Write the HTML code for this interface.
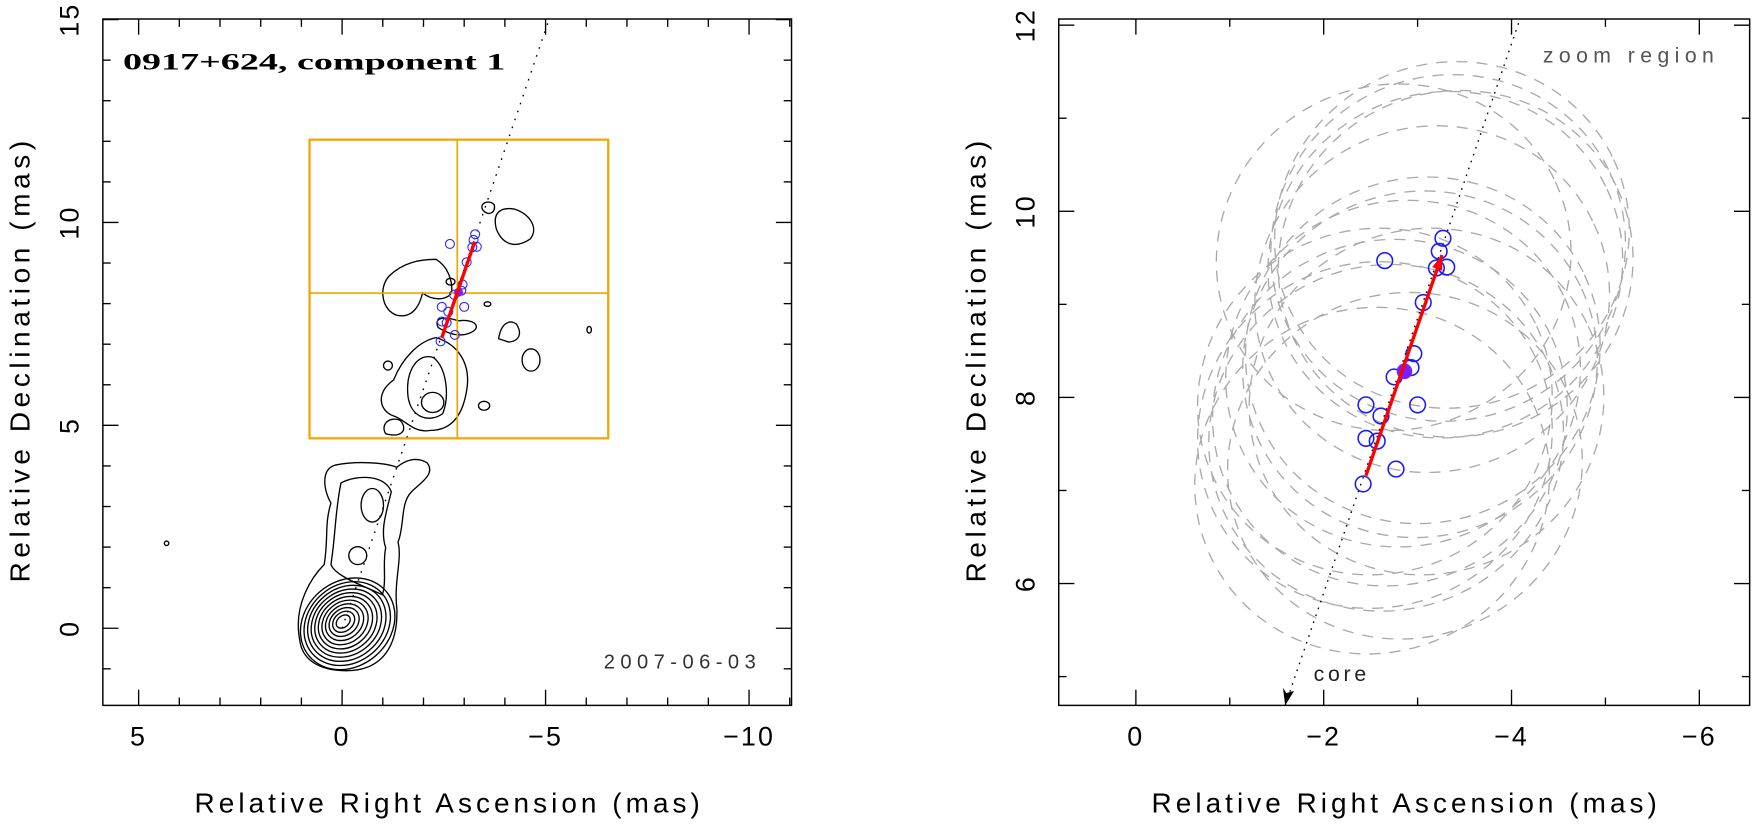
<!DOCTYPE html>
<html><head><meta charset="utf-8"><style>
html,body{margin:0;padding:0;background:#fff;}
svg{display:block;font-family:"Liberation Sans",sans-serif;}
</style></head><body>
<svg id="fig" width="1753" height="825" viewBox="0 0 1568 738" preserveAspectRatio="none">
<defs>
<clipPath id="clipL"><rect x="92" y="17" width="616" height="614"/></clipPath>
<clipPath id="clipR"><rect x="947" y="17" width="618" height="614"/></clipPath>
</defs>
<g id="left"></g>
<g id="right"></g>
</svg>
<script>
// ---- data ----
const compRA  = [-2.65,-3.27,-3.23,-3.20,-3.31,-3.06,-2.96,-2.93,-2.75,-2.45,-3.00,-2.61,-2.45,-2.57,-2.77,-2.42];
const compDec = [ 9.47, 9.71, 9.57, 9.39, 9.40, 9.02, 8.47, 8.32, 8.22, 7.92, 7.92, 7.80, 7.56, 7.53, 7.23, 7.07];
const meanPos = [-2.86, 8.28];
const motionStart = [-2.45, 7.16];
const motionEnd = [-3.26, 9.53];
const jetSlope = [-2.95];
const zoomBox = [0.8, -6.54, 4.68, 12.04];
const zoomCross = [-2.83, 8.26];
const leftXTicks = [5, 0, -5, -10];
const leftYTicks = [0, 5, 10, 15];
const rightXTicks = [0, -2, -4, -6];
const rightYTicks = [6, 8, 10, 12];
const beamRA = [1.9];
const beamDec = [1.85];

const NS = "http://www.w3.org/2000/svg";
function mk(parent, tag, attrs, text) {
  const e = document.createElementNS(NS, tag);
  for (const k in attrs) e.setAttribute(k, attrs[k]);
  if (text !== undefined) e.textContent = text;
  parent.appendChild(e);
  return e;
}
const LX = ra => 306 - 36.4 * ra;
const LY = d => 562 - 36.3 * d;
const RX = ra => 1016 - 84 * ra;
const RY = d => 189 + (10 - d) * 83.25;

function axes(g, x0, y0, x1, y1, xs, ys, xMaj, yMaj, xMin, yMin, xr, yr) {
  let f = mk(g, 'rect', {x:x0, y:y0, width:x1-x0, height:y1-y0, fill:'none', stroke:'#000', 'stroke-width':1.3});
  
  
  for (let v = xr[0]; v >= xr[1] - 1e-9; v -= xMin) {
    const px = xs(v); if (px < x0 || px > x1) continue;
    const maj = xMaj.some(m => Math.abs(m - v) < 1e-6);
    const L = maj ? 14 : 7;
    mk(g, 'line', {x1:px, y1:y1, x2:px, y2:y1-L, stroke:'#000', 'stroke-width':1.2});
    mk(g, 'line', {x1:px, y1:y0, x2:px, y2:y0+L, stroke:'#000', 'stroke-width':1.2});
  }
  for (let v = yr[0]; v <= yr[1] + 1e-9; v += yMin) {
    const py = ys(v); if (py < y0 || py > y1) continue;
    const maj = yMaj.some(m => Math.abs(m - v) < 1e-6);
    const L = maj ? 14 : 7;
    mk(g, 'line', {x1:x0, y1:py, x2:x0+L, y2:py, stroke:'#000', 'stroke-width':1.2});
    mk(g, 'line', {x1:x1, y1:py, x2:x1-L, y2:py, stroke:'#000', 'stroke-width':1.2});
  }
  xMaj.forEach(v => {
    const t = mk(g, 'text', {x:xs(v), y:y1+36, 'text-anchor':'middle', 'font-size':24, 'letter-spacing':'2', fill:'#000'}, v < 0 ? '\u2212' + Math.abs(v) : String(v));
    
    
  });
  yMaj.forEach(v => {
    const t = mk(g, 'text', {x:x0-28, y:ys(v), 'text-anchor':'middle', 'font-size':24, 'letter-spacing':'2', fill:'#000', transform:`rotate(-90 ${x0-28} ${ys(v)})`, 'dominant-baseline':'middle'}, String(v));
    
    
  });
  let xl = mk(g, 'text', {x:(x0+x1)/2 - 226, y:727, 'font-size':25, textLength:452, lengthAdjust:'spacing', fill:'#000'}, 'Relative Right Ascension (mas)');
  
  
  const yc = (y0+y1)/2, xc = x0 - 72;
  let yl = mk(g, 'text', {x:xc - 197, y:yc, 'font-size':25, textLength:395, lengthAdjust:'spacing', fill:'#000', transform:`rotate(-90 ${xc} ${yc})`, 'dominant-baseline':'middle'}, 'Relative Declination (mas)');
  
  
}

// ---------- LEFT ----------
const L = document.getElementById('left');
const Lc = mk(L, 'g', {'clip-path':'url(#clipL)'});
const cont = mk(Lc, 'g', {fill:'none', stroke:'#000', 'stroke-width':1.2});


for (let i = 0; i < 11; i++) {
  const k = i / 10;
  mk(cont, 'ellipse', {cx:311 - 4*k, cy:558 - 2*k, rx:45 - 38*k, ry:38 - 33*k, transform:`rotate(-40 ${311-4*k} ${558-2*k})`});
}
mk(cont, 'path', {d:'M268,572 C262,540 280,515 290,505 C294,480 290,470 296,450 C290,440 286,420 300,416 C320,412 345,414 355,418 C362,412 372,408 382,414 C390,424 376,432 368,440 C358,450 362,470 356,485 C360,500 352,520 355,545 C356,580 340,600 310,600 C285,600 270,590 268,572Z'});
mk(cont, 'path', {d:'M296,505 C300,480 300,455 305,432 C320,424 345,425 350,440 C345,460 340,475 345,490 C342,505 346,520 342,532 C320,522 300,515 296,505Z'});
mk(cont, 'ellipse', {cx:333, cy:452, rx:10, ry:15});
mk(cont, 'ellipse', {cx:320, cy:497, rx:8, ry:8});
mk(cont, 'path', {d:'M352,372 C340,368 335,352 352,340 C360,320 375,305 390,302 C410,308 420,325 418,345 C415,370 405,385 385,385 C370,388 362,375 352,372Z'});
mk(cont, 'path', {d:'M345,388 C340,380 348,372 358,376 C365,384 360,392 345,388Z'});
mk(cont, 'path', {d:'M365,355 C362,330 375,315 388,320 C400,330 402,355 396,370 C385,378 368,375 365,355Z'});
mk(cont, 'ellipse', {cx:387, cy:360, rx:10, ry:9});
mk(cont, 'path', {d:'M348,247 C360,235 375,232 390,232 C400,238 405,250 404,262 C398,270 385,268 378,262 C375,275 368,285 355,282 C342,278 338,258 348,247Z'});
mk(cont, 'ellipse', {cx:403, cy:252, rx:4, ry:3});
mk(cont, 'path', {d:'M444,205 C440,190 448,185 460,187 C475,192 482,205 474,214 C462,222 450,220 444,205Z'});
mk(cont, 'path', {d:'M432,188 C428,182 437,178 442,183 C444,190 437,194 432,188Z'});
mk(cont, 'path', {d:'M392,293 C388,285 395,282 410,287 C425,285 432,293 420,298 C410,302 400,298 392,293Z'});
mk(cont, 'path', {d:'M446,303 C448,290 455,285 462,290 C467,298 465,305 455,306Z'});
mk(cont, 'ellipse', {cx:475, cy:322, rx:8, ry:10});
mk(cont, 'ellipse', {cx:347, cy:327, rx:4, ry:4});
mk(cont, 'ellipse', {cx:433, cy:363, rx:5, ry:4});
mk(cont, 'ellipse', {cx:436, cy:272, rx:3, ry:2});
mk(cont, 'ellipse', {cx:527, cy:295, rx:2, ry:3});
mk(cont, 'ellipse', {cx:149, cy:486, rx:2, ry:2});

let jl = mk(Lc, 'line', {x1:LX(0), y1:LY(0), x2:LX(15/jetSlope[0]), y2:LY(15), stroke:'#000', 'stroke-width':1.2, 'stroke-dasharray':'1.5 6'});


let zb = mk(L, 'rect', {x:LX(zoomBox[0]), y:LY(zoomBox[3]), width:LX(zoomBox[1])-LX(zoomBox[0]), height:LY(zoomBox[2])-LY(zoomBox[3]), fill:'none', stroke:'#f5a300', 'stroke-width':2});


mk(L, 'line', {x1:LX(zoomCross[0]), y1:LY(zoomBox[3]), x2:LX(zoomCross[0]), y2:LY(zoomBox[2]), stroke:'#f5a300', 'stroke-width':1.5});
mk(L, 'line', {x1:LX(zoomBox[0]), y1:LY(zoomCross[1]), x2:LX(zoomBox[1]), y2:LY(zoomCross[1]), stroke:'#f5a300', 'stroke-width':1.5});
compRA.forEach((ra, i) => {
  const c = mk(L, 'circle', {cx:LX(ra), cy:LY(compDec[i]), r:4, fill:'none', stroke:'#2a2aff', 'stroke-width':1});
  
  
});
mk(L, 'circle', {cx:LX(meanPos[0]), cy:LY(meanPos[1]), r:4, fill:'#7a1fff'});
let la = mk(L, 'line', {x1:LX(motionStart[0]), y1:LY(motionStart[1]), x2:LX(motionEnd[0]), y2:LY(motionEnd[1]), stroke:'#ff0000', 'stroke-width':3});


axes(L, 92, 17, 708, 631, LX, LY, leftXTicks, leftYTicks, 1, 1, [6, -11], [-2, 15]);
let tt = mk(L, 'text', {x:110, y:62, 'font-size':21, 'font-weight':'bold', 'font-family':'"Liberation Serif",serif', textLength:342, lengthAdjust:'spacingAndGlyphs', fill:'#000'}, '0917+624, component 1');


let dt = mk(L, 'text', {x:540, y:598, 'font-size':18, textLength:136, lengthAdjust:'spacing', fill:'#333'}, '2007-06-03');



// ---------- RIGHT ----------
const R = document.getElementById('right');
const Rc = mk(R, 'g', {'clip-path':'url(#clipR)'});
const beams = mk(Rc, 'g', {fill:'none', stroke:'#aaa', 'stroke-width':1.2, 'stroke-dasharray':'10 8'});


compRA.forEach((ra, i) => {
  const cx = RX(ra) + 8, cy = RY(compDec[i]) - 3;
  const e = mk(beams, 'ellipse', {cx:cx, cy:cy, rx:beamRA[0]*84, ry:beamDec[0]*83.25, transform:`rotate(-25 ${cx} ${cy})`});
  
  
});
const d0 = 4.69, d1 = 12.1;
let rj = mk(Rc, 'line', {x1:RX(d0/jetSlope[0]), y1:RY(d0), x2:RX(d1/jetSlope[0]), y2:RY(d1), stroke:'#000', 'stroke-width':1.2, 'stroke-dasharray':'1.5 5'});


{
  const ax = RX(d0/jetSlope[0]), ay = RY(d0);
  const ah = mk(R, 'path', {d:`M${ax},${ay} L${ax-2},${ay-16} L${ax+1},${ay-11} L${ax+8},${ay-13} Z`, fill:'#000'});
  
  
}
compRA.forEach((ra, i) => {
  const c = mk(R, 'circle', {cx:RX(ra), cy:RY(compDec[i]), r:7, fill:'none', stroke:'#1a1aff', 'stroke-width':1.4});
  
  
});
let mp = mk(R, 'circle', {cx:RX(meanPos[0]), cy:RY(meanPos[1]), r:7, fill:'#7a1fff'});


{
  const x1 = RX(motionStart[0]), y1 = RY(motionStart[1]), x2 = RX(motionEnd[0]), y2 = RY(motionEnd[1]);
  const ln = mk(R, 'line', {x1:x1, y1:y1, x2:x2, y2:y2, stroke:'#ff0000', 'stroke-width':3});
  
  
  const ang = Math.atan2(y2-y1, x2-x1), s = 14;
  const p1 = [x2 - s*Math.cos(ang-0.35), y2 - s*Math.sin(ang-0.35)];
  const p2 = [x2 - s*Math.cos(ang+0.35), y2 - s*Math.sin(ang+0.35)];
  mk(R, 'path', {d:`M${x2},${y2} L${p1[0]},${p1[1]} L${p2[0]},${p2[1]} Z`, fill:'#ff0000'});
}
axes(R, 947, 17, 1565, 631, RX, RY, rightXTicks, rightYTicks, 1, 1, [1, -7], [4, 13]);
let zr = mk(R, 'text', {x:1380, y:56, 'font-size':19, textLength:153, lengthAdjust:'spacing', fill:'#555'}, 'zoom region');


let cl = mk(R, 'text', {x:1175, y:609, 'font-size':19, textLength:47, lengthAdjust:'spacing', fill:'#222'}, 'core');


</script>
</body></html>
